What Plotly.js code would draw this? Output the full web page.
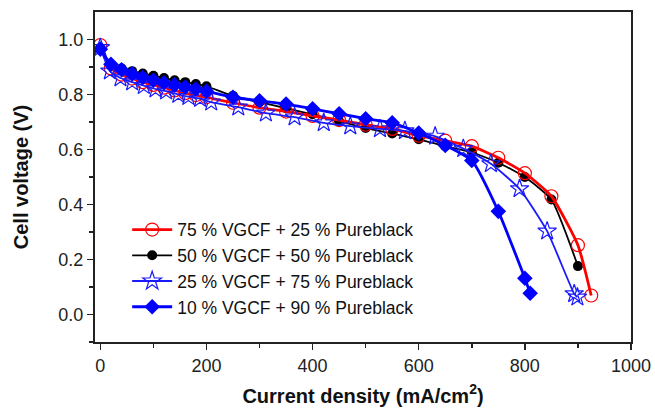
<!DOCTYPE html>
<html>
<head>
<meta charset="utf-8">
<script src="https://cdn.plot.ly/plotly-3.0.1.min.js"></script>
<style>html,body{margin:0;padding:0;background:#fff;}#chart{width:655px;height:416px;}</style>
</head>
<body>
<div id="chart"></div>
<script>
// 75 % VGCF + 25 % Pureblack
const redX = [0, 20, 40, 60, 80, 100, 120, 140, 160, 180, 200, 250, 300, 350, 400, 450, 500, 550, 600, 650, 700, 750, 800, 850, 900, 925];
const redY = [0.98, 0.895, 0.872, 0.858, 0.845, 0.835, 0.825, 0.815, 0.805, 0.798, 0.79, 0.77, 0.752, 0.738, 0.722, 0.707, 0.69, 0.675, 0.65, 0.632, 0.612, 0.57, 0.514, 0.43, 0.252, 0.069];
// 50 % VGCF + 50 % Pureblack
const blackX = [0, 20, 40, 60, 80, 100, 120, 140, 160, 180, 200, 250, 300, 350, 400, 450, 500, 550, 600, 650, 700, 750, 800, 850, 900];
const blackY = [0.97, 0.905, 0.895, 0.885, 0.876, 0.868, 0.86, 0.852, 0.845, 0.838, 0.83, 0.795, 0.772, 0.75, 0.728, 0.703, 0.678, 0.658, 0.637, 0.612, 0.59, 0.552, 0.5, 0.418, 0.176];
// 25 % VGCF + 75 % Pureblack
const starX = [0, 18, 38, 60, 82, 104, 124, 147, 166, 188, 209, 260, 312, 366, 421, 471, 527, 574, 631, 684, 736, 790, 842, 893, 899];
const starY = [0.97, 0.885, 0.86, 0.845, 0.832, 0.82, 0.812, 0.80, 0.792, 0.785, 0.772, 0.754, 0.732, 0.718, 0.697, 0.685, 0.675, 0.668, 0.648, 0.603, 0.548, 0.457, 0.303, 0.075, 0.063];
// 10 % VGCF + 90 % Pureblack
const diaX = [0, 20, 40, 60, 80, 100, 120, 140, 160, 180, 200, 250, 300, 350, 400, 450, 500, 550, 600, 650, 700, 750, 800, 810];
const diaY = [0.965, 0.91, 0.89, 0.875, 0.862, 0.852, 0.843, 0.835, 0.827, 0.82, 0.812, 0.79, 0.777, 0.765, 0.748, 0.73, 0.712, 0.697, 0.66, 0.615, 0.56, 0.375, 0.132, 0.077];

const names = ['75 % VGCF + 25 % Pureblack', '50 % VGCF + 50 % Pureblack', '25 % VGCF + 75 % Pureblack', '10 % VGCF + 90 % Pureblack'];
const xTicks = [0, 200, 400, 600, 800, 1000];
const yTicks = [0, 0.2, 0.4, 0.6, 0.8, 1.0];

const FONT = 'Liberation Sans, Arial, sans-serif';

const traces = [
  {x: blackX, y: blackY, name: names[1], legendrank: 2, mode: 'lines+markers', line: {color: '#000000', width: 1.8, shape: 'spline', smoothing: 0.5}, marker: {symbol: 'circle', size: 10, color: '#000000'}},
  {x: redX, y: redY, name: names[0], legendrank: 1, mode: 'lines+markers', line: {color: '#ff0000', width: 2.8, shape: 'spline', smoothing: 0.5}, marker: {symbol: 'circle-open', size: 13, color: '#ff0000', line: {width: 1.2}}},
  {x: starX, y: starY, name: names[2], legendrank: 3, mode: 'lines+markers', line: {color: '#1a1aff', width: 1.8, shape: 'spline', smoothing: 0.5}, marker: {symbol: 'star-open', size: 14, color: '#1a1aff', line: {width: 1.2}}},
  {x: diaX, y: diaY, name: names[3], legendrank: 4, mode: 'lines+markers', line: {color: '#0000ff', width: 2.8, shape: 'spline', smoothing: 0.5}, marker: {symbol: 'diamond', size: 12, color: '#0000ff'}}
];

const axisCommon = {
  showgrid: false, zeroline: false, showline: true, linecolor: '#222', linewidth: 2, mirror: true,
  ticks: 'outside', ticklen: 6, tickwidth: 1.5, tickcolor: '#222',
  tickfont: {family: FONT, size: 18, color: '#222'}
};

const layout = {
  width: 655, height: 416,
  margin: {l: 95, r: 24, t: 12, b: 74},
  paper_bgcolor: '#fff', plot_bgcolor: '#fff',
  showlegend: true,
  legend: {x: 0.06, y: 0.395, xanchor: 'left', yanchor: 'top', bgcolor: 'rgba(0,0,0,0)', tracegroupgap: 0, itemwidth: 40,
    font: {family: FONT, size: 17.5, color: '#111'}},
  xaxis: Object.assign({}, axisCommon, {
    range: [-10, 1000], tickvals: xTicks,
    minor: {tickvals: [100, 300, 500, 700, 900], ticks: 'outside', ticklen: 4, tickwidth: 1.5, tickcolor: '#222'},
    title: {text: 'Current density (mA/cm<sup>2</sup>)', standoff: 14, font: {family: FONT, size: 20, color: '#111', weight: 'bold'}}
  }),
  yaxis: Object.assign({}, axisCommon, {
    range: [-0.1, 1.1], tickvals: yTicks, tickformat: '.1f',
    minor: {tickvals: [-0.1, 0.1, 0.3, 0.5, 0.7, 0.9], ticks: 'outside', ticklen: 4, tickwidth: 1.5, tickcolor: '#222'},
    title: {text: 'Cell voltage (V)', standoff: 24, font: {family: FONT, size: 20, color: '#111', weight: 'bold'}}
  })
};

Plotly.newPlot('chart', traces, layout, {displayModeBar: false, staticPlot: true});
</script>
</body>
</html>
